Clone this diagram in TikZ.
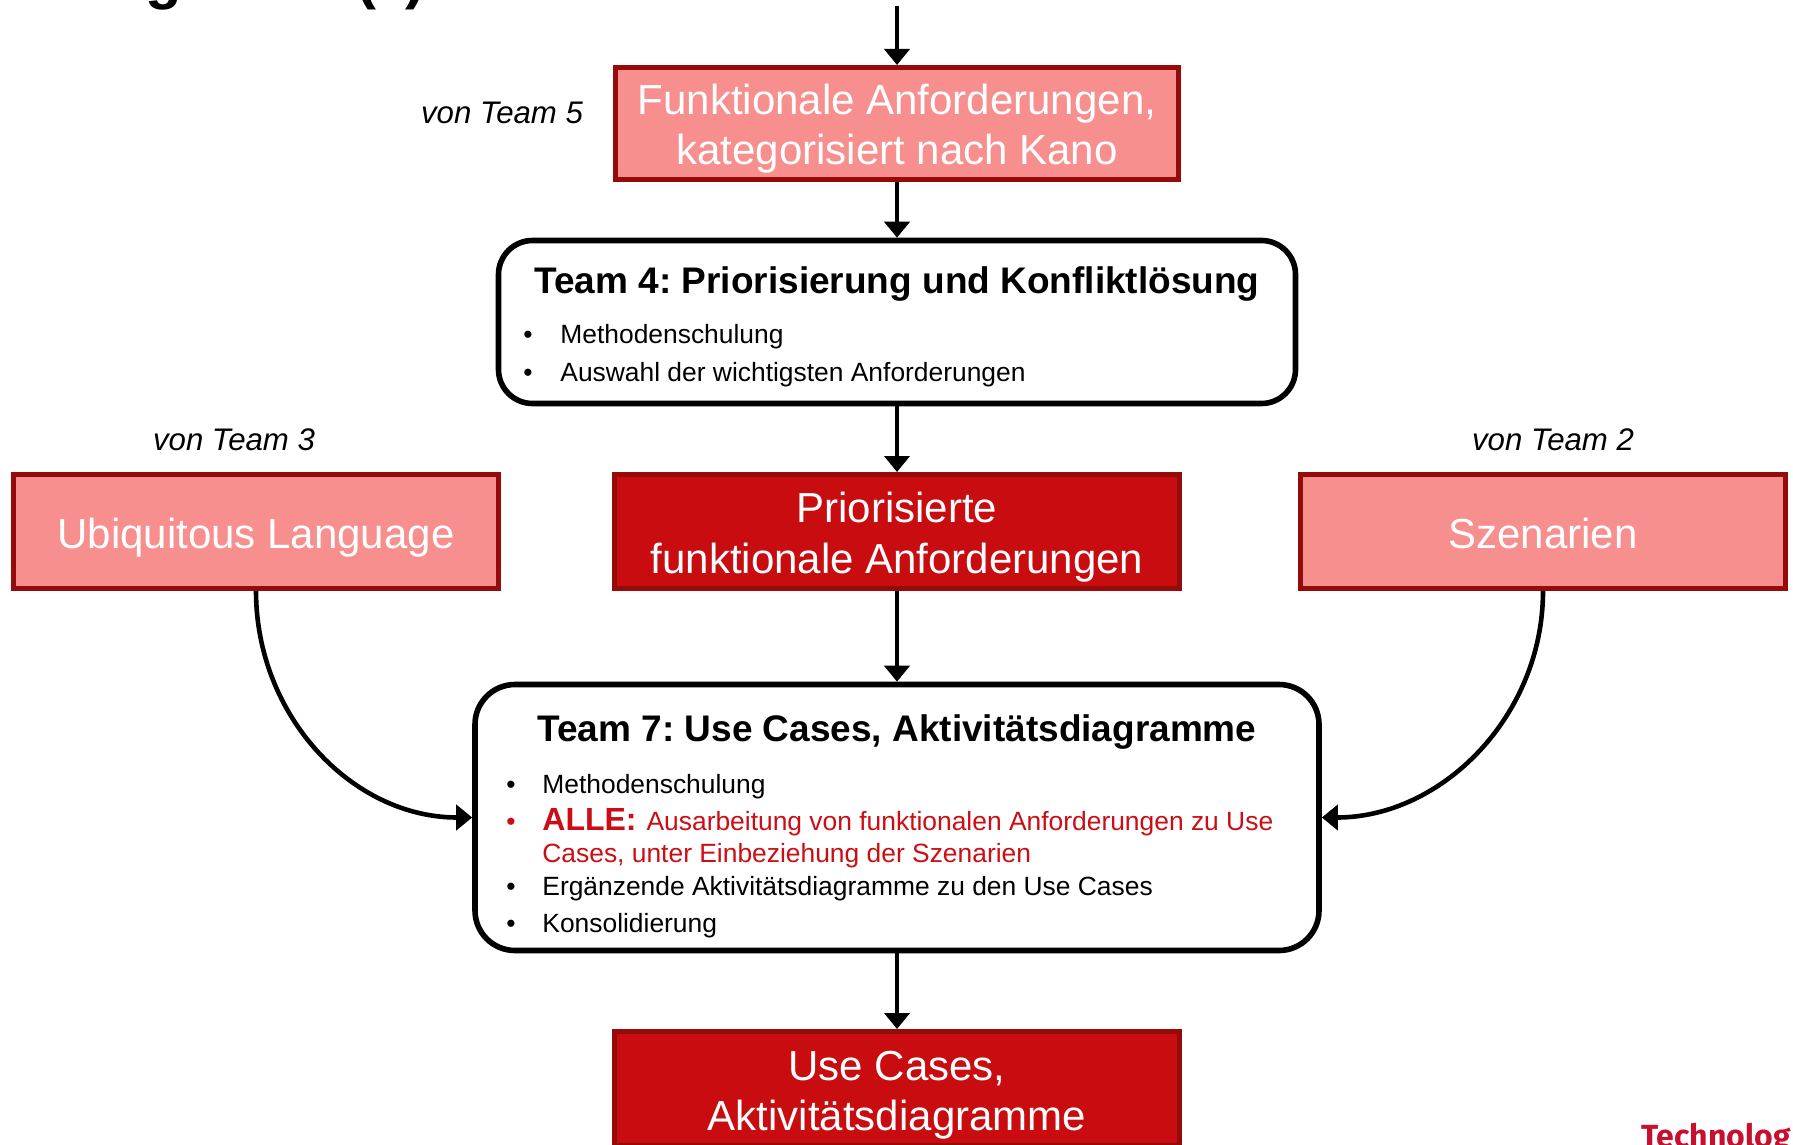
\documentclass[tikz,border=0pt]{standalone}
\usepackage{fontspec}
\setmainfont{Liberation Sans}
\newfontfamily\logofont{Fira Sans}
\usetikzlibrary{arrows.meta}
\frenchspacing

\definecolor{boxpink}{HTML}{F78F8F}
\definecolor{boxedge}{HTML}{960A0A}
\definecolor{boxdark}{HTML}{C80C10}
\definecolor{alertred}{HTML}{CC0E14}
\definecolor{logored}{HTML}{C8102E}

% font sizes (one unit of the picture is 0.5pt)
\newcommand\fsHead{\fontsize{30pt}{36pt}\selectfont\bfseries}
\newcommand\fsBox{\fontsize{21pt}{25pt}\selectfont}
\newcommand\fsTitle{\fontsize{18.5pt}{22pt}\selectfont\bfseries}
\newcommand\fsItem{\fontsize{13.2pt}{16pt}\selectfont}
\newcommand\fsAlle{\fontsize{16pt}{19pt}\selectfont\bfseries}
\newcommand\fsFrom{\fontsize{15.6pt}{19pt}\selectfont\itshape}

\begin{document}
\begin{tikzpicture}[x=0.5pt, y=-0.5pt,
  lightbox/.style={draw=boxedge, fill=boxpink, line width=2.5pt, inner sep=0pt,
                   minimum width=242.5pt, minimum height=57pt},
  darkbox/.style={draw=boxedge, fill=boxdark, line width=2.5pt, inner sep=0pt,
                  minimum width=282.5pt, minimum height=57pt},
  teambox/.style={draw=black, fill=white, line width=2.8pt, inner sep=0pt},
  arr/.style={draw=black, line width=2.3pt,
              -{Triangle[length=8pt, width=12.5pt]}},
  txt/.style={inner sep=0pt, anchor=base},
  txtl/.style={inner sep=0pt, anchor=base west},
  boxtext/.style={txt, text=white},
]
\useasboundingbox (0,0) rectangle (1793,1145);
\clip (0,0) rectangle (1793,1145);
\fill[white] (0,0) rectangle (1793,1145);

% heading, mostly above the visible area
\node[txt] (headg) at (164,-2) {\fsHead g};
\node[txt] (headl) at (366,-2) {\fsHead (};
\node[txt] (headr) at (415,-2) {\fsHead )};

% input from team 5
\coordinate (topin) at (897,6);
\node[lightbox, minimum width=281.5pt, minimum height=56pt] (b1) at (897,123.5) {};
\node[boxtext] (b1a) at (897,115) {\fsBox Funktionale Anforderungen,};
\node[boxtext] (b1b) at (897,164.5) {\fsBox kategorisiert nach Kano};
\node[txt] (from5) at (502,124) {\fsFrom von Team 5};

% team 4
\node[teambox, rounded corners=17pt, minimum width=398.5pt, minimum height=81.5pt] (t4) at (897,322) {};
\node[txt] (t4title) at (897,293) {\fsTitle Team 4: Priorisierung und Konfliktlösung};
\node[txt] (t4b1) at (528,343.5) {\fsItem •};
\node[txtl] (t4i1) at (560,343.5) {\fsItem Methodenschulung};
\node[txt] (t4b2) at (528,381.5) {\fsItem •};
\node[txtl] (t4i2) at (560,381.5) {\fsItem Auswahl der wichtigsten Anforderungen};

% middle row
\node[lightbox] (ubi) at (256,531.5) {};
\node[boxtext] (ubit) at (256,548) {\fsBox Ubiquitous Language};
\node[txt] (from3) at (234,450) {\fsFrom von Team 3};

\node[darkbox] (prio) at (897,531.5) {};
\node[boxtext] (prioa) at (897,522.5) {\fsBox Priorisierte};
\node[boxtext] (priob) at (897,573) {\fsBox funktionale Anforderungen};

\node[lightbox] (sz) at (1543,531.5) {};
\node[boxtext] (szt) at (1543,548) {\fsBox Szenarien};
\node[txt] (from2) at (1553,450) {\fsFrom von Team 2};

% team 7
\node[teambox, rounded corners=20pt, minimum width=422pt, minimum height=133pt] (t7) at (897,817.5) {};
\node[txt] (t7title) at (897,741.5) {\fsTitle Team 7: Use Cases, Aktivitätsdiagramme};
\node[txt] (t7b1) at (511,793) {\fsItem •};
\node[txtl] (t7i1) at (542,793) {\fsItem Methodenschulung};
\node[txt, text=alertred] (t7b2) at (511,830) {\fsItem •};
\node[txtl, text=alertred] (t7i2) at (542,830)
  {\fsAlle ALLE:\hspace{5pt}\fsItem\mdseries Ausarbeitung von funktionalen Anforderungen zu Use};
\node[txtl, text=alertred] (t7i2b) at (542,862.5) {\fsItem Cases, unter Einbeziehung der Szenarien};
\node[txt] (t7b3) at (511,895.5) {\fsItem •};
\node[txtl] (t7i3) at (542,895.5) {\fsItem Ergänzende Aktivitätsdiagramme zu den Use Cases};
\node[txt] (t7b4) at (511,932.5) {\fsItem •};
\node[txtl] (t7i4) at (542,932.5) {\fsItem Konsolidierung};

% result
\node[darkbox] (uc) at (897,1088.5) {};
\node[boxtext] (uca) at (897,1080) {\fsBox Use Cases,};
\node[boxtext] (ucb) at (897,1130.5) {\fsBox Aktivitätsdiagramme};

% logo text in the corner
\node[txtl, text=logored] (logo) at (1641,1147) {\logofont\bfseries\fontsize{16pt}{19pt}\selectfont Technolog};

% connectors
\draw[arr] (topin) -- (b1.north);
\draw[arr] (b1.south) -- (t4.north);
\draw[arr] (t4.south) -- (prio.north);
\draw[arr] (prio.south) -- (t7.north);
\draw[arr] (t7.south) -- (uc.north);
\draw[arr] (ubi.south) .. controls +(0,125) and +(-120,0) .. (t7.west);
\draw[arr] (sz.south) .. controls +(0,125) and +(120,0) .. (t7.east);
\end{tikzpicture}
\end{document}
